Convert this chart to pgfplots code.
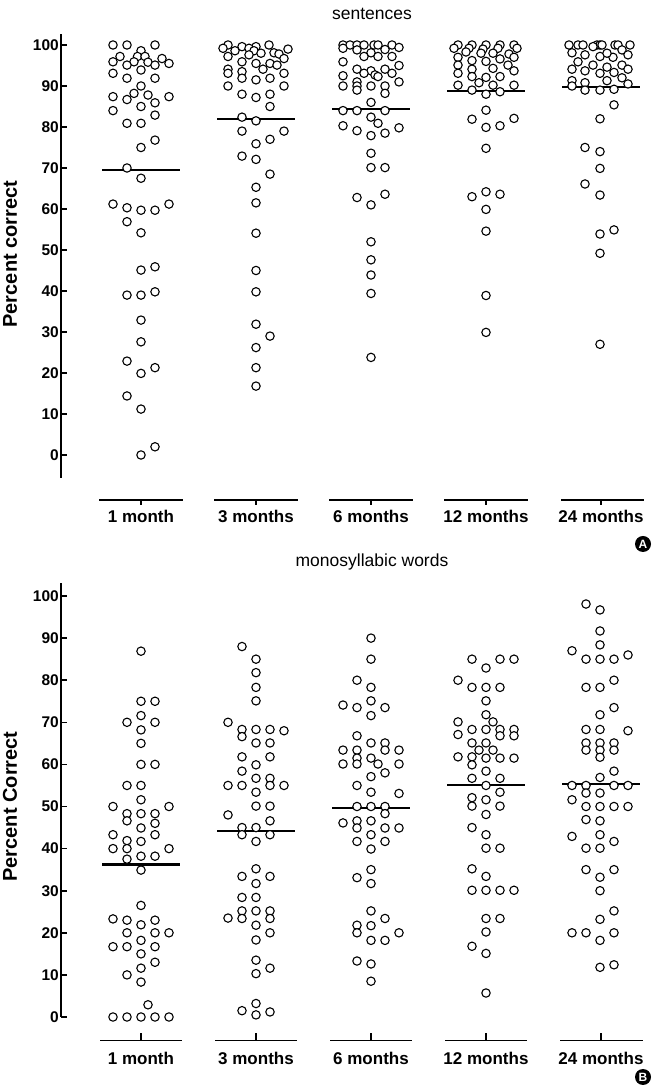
\documentclass[border=0pt]{standalone}
\usepackage{fontspec}
\setmainfont{Liberation Sans}
\usepackage{pgfplots}
\pgfplotsset{compat=1.18}
\usepackage{pgfplotstable}

% ---------- top panel: sentences ----------
\pgfplotstableread{
x y
127 100
113 100
155 100
141 98.6
120 97.2
137.5 97.2
145 97.2
162 96.7
113 95.9
134 95.9
148 95.8
127 95.1
155 95.1
169 95.5
141 93.9
113 93.1
127 91.9
155 91.9
141 90
134 88.2
148 87.8
113 87.4
169 87.4
127 86.7
155 85.9
141 85
113 84
155 82.9
127 80.9
141 80.9
155 76.8
141 75
127 70
141 67.5
113 61.2
169 61.2
127 60.3
141 59.7
155 59.7
127 56.9
141 54.2
155 45.9
141 45.1
155 39.8
127 39
141 39
141 32.9
141 27.6
127 22.9
155 21.3
141 19.9
127 14.4
141 11.2
155 2
141 0
}\Ta
\pgfplotstableread{
x y
228 100
242 99.6
256 99.6
269 100
223 99.2
235 98.6
249 99.2
254 98.6
288 99
261 98
274 98.1
279 97.8
228 97.2
249 97.6
284 96.7
242 95.9
256 95.5
270 95.5
277 95.1
263 94.1
228 94.1
228 93.1
242 93.5
242 91.9
256 91.5
270 91.9
284 93.1
228 90
284 90
242 88
256 87.2
270 88
270 85
242 82.4
256 81.5
242 79
284 79
270 77
256 75.9
242 72.9
256 72.1
270 68.5
256 65.3
256 61.5
256 54.1
256 45
256 39.8
256 31.9
270 29
256 26.2
256 21.3
256 16.8
}\Tb
\pgfplotstableread{
x y
343 100
350 100
357 100
364 100
374 100
378 100
392 100
343 99.2
357 98.8
385 98.9
399 99.4
371 98.1
364 97.2
378 97.2
392 97.2
343 95.9
399 95
357 94.1
371 93.7
385 94.1
364 93.1
375 92.7
378 92.3
392 93.1
343 92.5
343 90
357 91
357 90
357 89
371 90
385 90
385 88.2
399 91
371 86
343 84
357 84
385 84
371 82.4
378 80.9
343 80.3
357 79.1
371 77.9
385 78.5
399 79.8
371 73.6
371 70.1
385 70.1
357 62.8
385 63.6
371 61
371 52
371 47.6
371 43.9
371 39.4
371 23.8
}\Tc
\pgfplotstableread{
x y
458 100
472 100
486 100
500 100
514 100
454 99.2
469 99.2
483 99
498 99.2
517 99.2
466 98.3
481 98
493 98
509 97.8
458 97
472 96.2
486 96
500 96.6
514 97
458 95.1
472 94.1
493 94.3
508 95.1
458 93.1
472 92.3
486 92.1
500 92.3
514 93.7
479 90.8
493 90.2
458 90.2
514 90.2
472 89
486 88
500 88.6
486 84.1
472 81.9
514 82.1
486 79.9
500 80.3
486 74.8
472 63
486 64.2
500 63.6
486 59.9
486 54.6
486 38.9
486 29.9
}\Td
\pgfplotstableread{
x y
569 100
578 100
583 100
597 100
600 100
602 100
615 100
618 100
630 100
593 99.6
572 98.1
585 97.6
600 97.2
622 98.8
628 97.6
613 97
578 95.9
607 98
572 94.1
585 93.7
593 95.1
600 93.1
607 94.6
622 95.1
628 94.1
614 93.3
622 92
572 91.3
585 90.8
607 91.3
628 90.5
572 90
585 89
600 89
614 89.2
614 85.4
600 82
585 75
600 74
600 69.9
585 66.1
600 63.4
600 53.9
614 54.9
600 49.2
600 27
}\Te

% ---------- bottom panel: monosyllabic words ----------
\pgfplotstableread{
x y
141 86.9
141 75
155 75
141 71.6
127 70
155 70
141 68.2
141 65
141 60
155 60
127 55
141 55
141 51.6
113 50
169 50
127 48.3
141 48.3
155 48.3
127 46.6
155 46
141 44.9
113 43.3
155 43.3
127 41.9
141 41.7
113 40
127 40
169 40
141 38.2
155 38.2
127 37.5
141 34.9
141 26.5
113 23.3
127 23
155 23
141 21.9
127 20
155 20
169 20
141 18.2
113 16.7
127 16.7
155 16.7
141 15
155 13
141 11.6
127 10
141 8.3
148 2.9
113 0
127 0
141 0
155 0
169 0
}\Ba
\pgfplotstableread{
x y
242 88
256 85
256 81.8
256 78.3
256 75.1
228 70
242 68.3
242 66.6
256 68.3
270 68.3
284 68
256 65.1
270 65.1
242 61.8
270 61.8
256 59.9
242 58.4
256 56.7
270 56.7
228 55
242 55
270 55
284 55
256 53.4
256 50.1
270 50.1
228 48
270 46.6
242 45
256 45
242 43.3
270 43.3
256 41.7
256 35.2
242 33.4
270 33.4
256 31.7
242 28.4
256 28.4
242 25.2
256 25.2
270 25.2
228 23.5
242 23.4
270 23.4
256 21.8
270 20
256 18.3
256 13.5
256 10.3
270 11.6
242 1.5
256 3.2
256 0.5
270 1.2
}\Bb
\pgfplotstableread{
x y
371 90
371 85
357 80
371 78.3
371 75.1
343 74.1
357 73.5
385 73.5
371 71.6
357 66.8
371 65.1
385 65.1
343 63.4
357 63.4
385 63.4
399 63.4
357 61.5
371 61.5
343 60.1
357 60.1
378 60.1
399 60.1
385 58
371 57.1
357 55
371 53.4
399 53.1
357 50
371 50
385 50
385 48.3
343 46.1
357 46.6
371 46.6
357 44.9
385 44.9
399 44.9
371 43.3
357 41.7
385 41.7
371 39.9
371 35
357 33.1
371 31.7
371 25.2
385 23.4
357 21.8
371 21.7
357 20
399 20
371 18.2
385 18.2
357 13.3
371 12.6
371 8.5
}\Bc
\pgfplotstableread{
x y
472 85
500 85
514 85
486 82.9
458 80
472 78.3
486 78.3
500 78.3
486 75.1
486 71.8
493 70.1
458 70.1
458 67.1
472 68.3
486 68.3
500 68.3
514 68.3
500 66.8
514 66.8
472 65.1
486 65.1
479 63.4
493 63.4
458 61.8
472 61.8
486 61.5
500 61.5
514 61.5
472 59.9
486 58.4
472 56.7
500 56.7
486 55
500 53.4
472 52.1
486 51.6
500 50.1
472 50.1
486 48.1
472 45
486 43.3
486 40.1
500 40.1
472 35.2
486 33.4
472 30.1
486 30.1
500 30.1
514 30.1
486 23.4
500 23.4
486 20.2
472 16.8
486 15.1
486 5.7
}\Bd
\pgfplotstableread{
x y
586 98.1
600 96.7
600 91.7
600 88.4
572 87
586 85
600 85
614 85
628 86
614 80
586 78.3
600 78.3
614 73.5
600 71.8
586 68.3
600 68.3
628 68
586 65.1
600 65.1
614 65.1
586 63.4
600 63.4
614 63.4
600 61.7
614 58.4
600 56.9
572 55
586 55
614 55
628 55
586 53.2
600 53.2
572 51.6
586 50
600 50
614 50
628 50
586 46.9
600 46.6
572 42.9
600 43.3
614 41.7
586 40.1
600 40.1
586 35
614 35
600 33.2
600 30
614 25.2
600 23.2
572 20
586 20
614 20
600 18.2
600 11.8
614 12.4
}\Be

\pgfplotsset{
  panel/.style={
    scale only axis, width=592pt,
    xmin=61, xmax=653, clip=false,
    axis x line=none, axis y line*=left,
    y axis line style={-, line width=1.6pt, black},
    ytick={0,10,...,100},
    tick align=inside, major tick length=6pt,
    ytick style={line width=1.6pt, black},
    /pgf/number format/assume math mode=true,
    yticklabel style={font=\bfseries\fontsize{15.5}{15.5}\selectfont, inner sep=1pt, xshift=-1pt},
  },
  dots/.style={only marks, mark=*, mark size=4.2pt,
    mark options={fill=white, draw=black, line width=1.1pt}},
  med/.style={black, line width=2.4pt, no marks},
}
\tikzset{
  seg/.style={line width=1.6pt, black},
  catlab/.style={font=\bfseries\fontsize{17}{17}\selectfont},
}

\begin{document}
\begin{tikzpicture}[x=1pt,y=1pt]
\path[use as bounding box] (0pt,0pt) rectangle (653pt,1087pt);

% ================= TOP =================
\begin{axis}[panel, at={(61pt,609.45pt)}, anchor=south west,
  height=443.2pt, ymin=-5.5, ymax=102.6]
  \addplot[med] coordinates {(102,69.5) (180,69.5)};
  \addplot[med] coordinates {(217,81.9) (295,81.9)};
  \addplot[med] coordinates {(332,84.4) (410,84.4)};
  \addplot[med] coordinates {(447,88.8) (525,88.8)};
  \addplot[med] coordinates {(562,89.7) (640,89.7)};
  \addplot[dots] table {\Ta};
  \addplot[dots] table {\Tb};
  \addplot[dots] table {\Tc};
  \addplot[dots] table {\Td};
  \addplot[dots] table {\Te};
  \draw[seg] (axis cs:99,-11) -- (axis cs:183,-11);
  \draw[seg] (axis cs:214,-11) -- (axis cs:298,-11);
  \draw[seg] (axis cs:329,-11) -- (axis cs:413,-11);
  \draw[seg] (axis cs:444,-11) -- (axis cs:528,-11);
  \draw[seg] (axis cs:561,-11) -- (axis cs:644,-11);
  \draw[seg] (axis cs:141,-11) -- (axis cs:141,-12.3);
  \draw[seg] (axis cs:256,-11) -- (axis cs:256,-12.3);
  \draw[seg] (axis cs:371,-11) -- (axis cs:371,-12.3);
  \draw[seg] (axis cs:486,-11) -- (axis cs:486,-12.3);
  \draw[seg] (axis cs:601,-11) -- (axis cs:601,-12.3);
  \node[catlab] at (axis cs:141,-15.1) {1 month};
  \node[catlab] at (axis cs:256,-15.1) {3 months};
  \node[catlab] at (axis cs:371,-15.1) {6 months};
  \node[catlab] at (axis cs:486,-15.1) {12 months};
  \node[catlab] at (axis cs:601,-15.1) {24 months};
  \node[font=\fontsize{17.5}{17.5}\selectfont] at (axis cs:372,107.6) {sentences};
  \node[rotate=90, font=\bfseries\fontsize{20}{20}\selectfont] at (axis cs:10,49) {Percent correct};
\end{axis}

% ================= BOTTOM =================
\begin{axis}[panel, at={(61pt,70pt)}, anchor=south west,
  height=433.6pt, ymin=0, ymax=103]
  \addplot[med] coordinates {(102,36.2) (180,36.2)};
  \addplot[med] coordinates {(217,44.2) (295,44.2)};
  \addplot[med] coordinates {(332,49.6) (410,49.6)};
  \addplot[med] coordinates {(447,55.1) (525,55.1)};
  \addplot[med] coordinates {(562,55.4) (640,55.4)};
  \addplot[dots] table {\Ba};
  \addplot[dots] table {\Bb};
  \addplot[dots] table {\Bc};
  \addplot[dots] table {\Bd};
  \addplot[dots] table {\Be};
  \draw[seg] (axis cs:100,-5.6) -- (axis cs:182,-5.6);
  \draw[seg] (axis cs:215,-5.6) -- (axis cs:297,-5.6);
  \draw[seg] (axis cs:330,-5.6) -- (axis cs:412,-5.6);
  \draw[seg] (axis cs:445,-5.6) -- (axis cs:527,-5.6);
  \draw[seg] (axis cs:560,-5.6) -- (axis cs:643,-5.6);
  \draw[seg] (axis cs:141,-5.6) -- (axis cs:141,-3.9);
  \draw[seg] (axis cs:256,-5.6) -- (axis cs:256,-3.9);
  \draw[seg] (axis cs:371,-5.6) -- (axis cs:371,-3.9);
  \draw[seg] (axis cs:486,-5.6) -- (axis cs:486,-3.9);
  \draw[seg] (axis cs:601,-5.6) -- (axis cs:601,-3.9);
  \node[catlab] at (axis cs:141,-9.8) {1 month};
  \node[catlab] at (axis cs:256,-9.8) {3 months};
  \node[catlab] at (axis cs:371,-9.8) {6 months};
  \node[catlab] at (axis cs:486,-9.8) {12 months};
  \node[catlab] at (axis cs:601,-9.8) {24 months};
  \node[font=\fontsize{17.5}{17.5}\selectfont] at (axis cs:372,108.1) {monosyllabic words};
  \node[rotate=90, font=\bfseries\fontsize{20}{20}\selectfont] at (axis cs:10,50) {Percent Correct};
\end{axis}

\node[circle, fill=black, text=white, minimum size=16pt, inner sep=0pt,
  font=\bfseries\fontsize{12}{12}\selectfont] at (643pt,543pt) {A};
\node[circle, fill=black, text=white, minimum size=16pt, inner sep=0pt,
  font=\bfseries\fontsize{12}{12}\selectfont] at (643pt,10pt) {B};
\end{tikzpicture}
\end{document}
